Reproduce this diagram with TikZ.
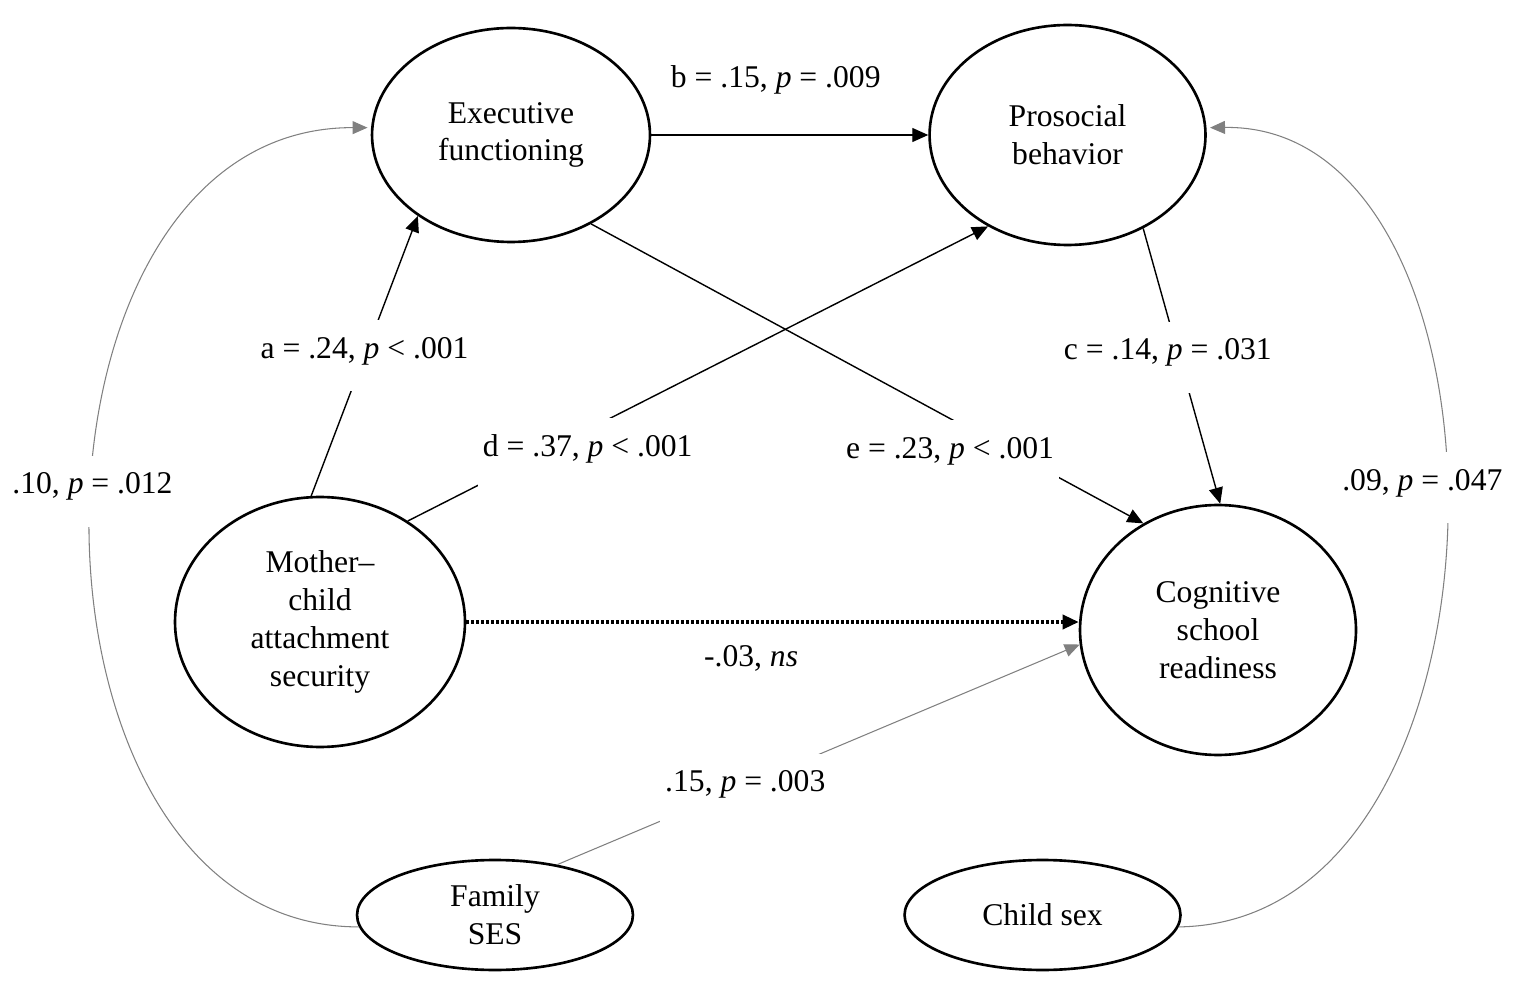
\documentclass[tikz,border=0pt]{standalone}
\usepackage{fontspec}
\setmainfont{Liberation Serif}
\usetikzlibrary{shapes,arrows.meta,positioning}

\begin{document}
\begin{tikzpicture}[x=0.02cm, y=-0.02cm,
    latent/.style={ellipse, draw, line width=1.5pt, inner sep=0pt, align=center, font=\fontsize{18}{21.5}\selectfont},
    effect/.style={-{Triangle[length=0.32cm, width=0.28cm]}, line width=0.8pt},
    ctrl/.style={-{Triangle[length=0.3cm, width=0.26cm]}, line width=0.6pt, draw=black!50},
    coef/.style={fill=white, inner xsep=3pt, inner ysep=0pt, text height=0.76cm, text depth=0.66cm, font=\fontsize{18}{21.5}\selectfont},
    lbl/.style={font=\fontsize{18}{21.5}\selectfont}]

    \useasboundingbox (0,0) rectangle (1514,982);

    % Nodes
    \node[latent, minimum width=5.56cm, minimum height=4.28cm] (exec) at (511,135) {Executive\\functioning};
    \node[latent, minimum width=5.52cm, minimum height=4.4cm, right=5.54cm of exec] (prosoc) {Prosocial\\behavior};
    \node[latent, minimum width=5.8cm, minimum height=5cm] (mother) at (320,622) {Mother–\\child\\attachment\\security};
    \node[latent, minimum width=5.52cm, minimum height=5cm] (cog) at (1218,630) {Cognitive\\school\\readiness};
    \node[latent, minimum width=5.52cm, minimum height=2.2cm] (ses) at (495,915) {Family\\SES};
    \node[latent, minimum width=5.52cm, minimum height=2.2cm, right=5.38cm of ses] (sex) {Child sex};

    % Paths
    \draw[effect] (exec) -- node[lbl, xshift=-0.28cm, yshift=1.1cm] {b = .15, \textit{p} = .009} (prosoc);
    \draw[effect] (mother.94) -- node[coef, pos=0.5] {a = .24, \textit{p} < .001} (exec.221);
    \draw[effect] (mother.49) -- node[coef, pos=0.31, yshift=-0.48cm] {d = .37, \textit{p} < .001} (prosoc.229);
    \draw[effect] (exec.312) -- node[coef, pos=0.65, yshift=-0.74cm] {e = .23, \textit{p} < .001} (cog.125);
    \draw[effect] (prosoc.309) -- node[coef, pos=0.45, xshift=-0.2cm, yshift=-0.1cm] {c = .14, \textit{p} = .031} (cog.89);
    \draw[effect, line width=0.07cm, dash pattern=on 0.06cm off 0.04cm] (mother.east) -- node[lbl, pos=0.465, yshift=-0.72cm] {-.03, \textit{ns}} (mother.east -| cog.west);

    % Controls
    \draw[ctrl] (ses.39) -- node[coef, pos=0.36, yshift=-0.08cm] {.15, \textit{p} = .003} (cog.186);
    \draw[ctrl, shorten >=2pt] (ses.185) .. controls (0,927) and (0,127) .. node[coef, pos=0.53] {.10, \textit{p} = .012} (exec.177);
    \draw[ctrl, shorten >=2pt] (sex.355) .. controls (1530,922) and (1530,123) .. node[coef, pos=0.53, xshift=-0.46cm] {.09, \textit{p} = .047} (prosoc.3);

\end{tikzpicture}
\end{document}
